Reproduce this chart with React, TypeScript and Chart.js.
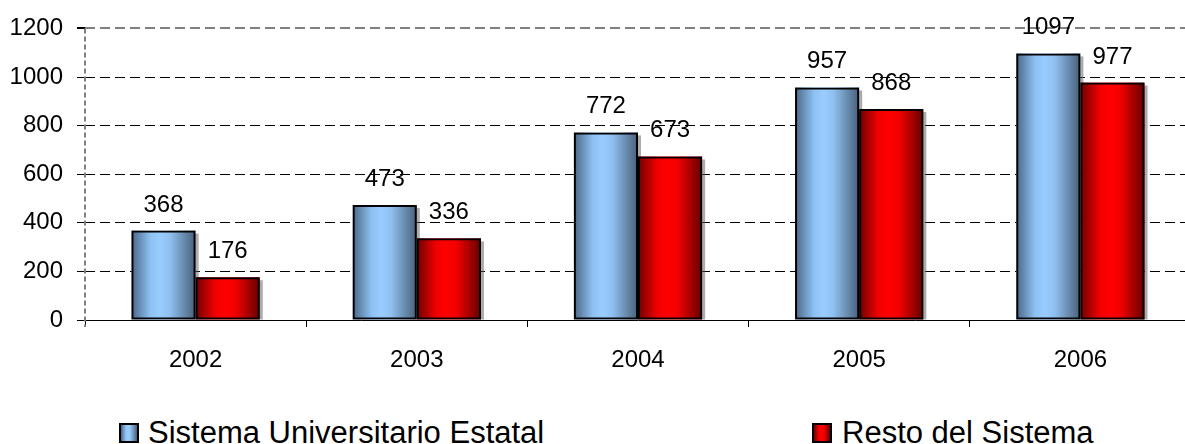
import React, { useEffect, useRef } from "react";
import { Chart, registerables } from "chart.js";

Chart.register(...registerables);

const categories = ["2002", "2003", "2004", "2005", "2006"];
const sistemaUniversitario = [368, 473, 772, 957, 1097];
const restoSistema = [176, 336, 673, 868, 977];
const seriesNames = ["Sistema Universitario Estatal", "Resto del Sistema"];
const yTicks = [0, 200, 400, 600, 800, 1000, 1200];

const FONT = '"Liberation Sans", Arial, sans-serif';

const gradStops = [
  [
    [0, "#4a6686"],
    [0.3, "#8fc2f4"],
    [0.45, "#99ccff"],
    [0.6, "#8fc0f0"],
    [1, "#485f78"],
  ],
  [
    [0, "#6e0000"],
    [0.3, "#f00000"],
    [0.45, "#ff0000"],
    [0.62, "#f20000"],
    [1, "#640000"],
  ],
];

const barPaint = {
  id: "barPaint",
  beforeDatasetsDraw(chart: any) {
    const ctx = chart.ctx;
    ctx.save();
    chart.data.datasets.forEach((_: any, di: number) => {
      const meta = chart.getDatasetMeta(di);
      meta.data.forEach((el: any) => {
        const { x, y, base, width } = el.getProps(["x", "y", "base", "width"], true);
        ctx.fillStyle = "rgba(90,90,90,0.5)";
        ctx.fillRect(x - width / 2 + 3, y + 3, width, base - y - 3);
      });
    });
    chart.data.datasets.forEach((_: any, di: number) => {
      const meta = chart.getDatasetMeta(di);
      meta.data.forEach((el: any) => {
        const { x, y, base, width } = el.getProps(["x", "y", "base", "width"], true);
        const left = x - width / 2;
        const g = ctx.createLinearGradient(left, 0, left + width, 0);
        gradStops[di].forEach(([p, c]: any) => g.addColorStop(p, c));
        ctx.fillStyle = g;
        ctx.fillRect(left, y, width, base - y);
      });
    });
    ctx.restore();
  },
  afterDatasetsDraw(chart: any) {
    const ctx = chart.ctx;
    ctx.save();
    ctx.font = `24px ${FONT}`;
    ctx.fillStyle = "#000";
    ctx.textAlign = "center";
    ctx.textBaseline = "alphabetic";
    chart.data.datasets.forEach((ds: any, di: number) => {
      const meta = chart.getDatasetMeta(di);
      meta.data.forEach((el: any, i: number) => {
        const { x, y } = el.getProps(["x", "y"], true);
        ctx.fillText(String(ds.data[i]), x, y - 19);
      });
    });
    ctx.restore();
  },
  afterDraw(chart: any) {
    const { ctx, chartArea } = chart;
    ctx.save();
    ctx.strokeStyle = "#808080";
    ctx.lineWidth = 2;
    ctx.setLineDash([5, 3]);
    ctx.beginPath();
    ctx.moveTo(chartArea.left, chartArea.top);
    ctx.lineTo(chartArea.left, chartArea.bottom + 7);
    ctx.stroke();
    ctx.restore();
  },
};

export default function App() {
  const ref = useRef<HTMLCanvasElement | null>(null);

  useEffect(() => {
    if (!ref.current) return;
    const chart = new Chart(ref.current, {
      type: "bar",
      data: {
        labels: categories,
        datasets: [
          {
            label: seriesNames[0],
            data: sistemaUniversitario,
            backgroundColor: "rgba(0,0,0,0)",
            borderColor: "#000",
            borderWidth: 2,
            borderSkipped: false,
            categoryPercentage: 0.58,
            barPercentage: 1,
          },
          {
            label: seriesNames[1],
            data: restoSistema,
            backgroundColor: "rgba(0,0,0,0)",
            borderColor: "#000",
            borderWidth: 2,
            borderSkipped: false,
            categoryPercentage: 0.58,
            barPercentage: 1,
          },
        ],
      },
      options: {
        responsive: false,
        animation: false,
        layout: { padding: { top: 27, right: 3, left: 0, bottom: 0 } },
        plugins: {
          legend: { display: false },
          tooltip: { enabled: false },
        },
        scales: {
          x: {
            grid: {
              display: true,
              drawOnChartArea: false,
              drawTicks: true,
              tickLength: 7,
              color: "#000",
              offset: true,
            },
            border: { display: true, color: "#000", width: 1 },
            ticks: {
              color: "#000",
              padding: 19,
              font: { family: FONT, size: 24 },
            },
            afterFit: (s: any) => {
              s.height = 60;
            },
          },
          y: {
            min: 0,
            max: 1200,
            afterBuildTicks: (s: any) => {
              s.ticks = yTicks.map((v) => ({ value: v }));
            },
            grid: {
              color: (c: any) =>
                c.tick && c.tick.value === 1200
                  ? "#808080"
                  : c.tick && c.tick.value === 0
                  ? "rgba(0,0,0,0)"
                  : "#000",
              lineWidth: (c: any) => (c.tick && c.tick.value === 1200 ? 2 : 1),
              tickColor: "#000",
              tickLength: 8,
              drawTicks: true,
            },
            border: { display: false, dash: [10, 5] },
            ticks: {
              color: "#000",
              padding: 14,
              font: { family: FONT, size: 24 },
              callback: (v: any) => String(v),
            },
            afterFit: (s: any) => {
              s.width = 85;
            },
          },
        },
      },
      plugins: [barPaint],
    });
    return () => chart.destroy();
  }, []);

  const legendBox = (i: number, left: number) => {
    const stops = gradStops[i].map(([p, c]: any) => `${c} ${p * 100}%`).join(", ");
    return (
      <div
        style={{
          position: "absolute",
          left,
          top: 423,
          width: 20,
          height: 20,
          boxSizing: "border-box",
          border: "2px solid #000",
          background: `linear-gradient(to right, ${stops})`,
        }}
      />
    );
  };

  const legendText = (i: number, left: number) => (
    <div
      style={{
        position: "absolute",
        left,
        top: 417,
        fontFamily: FONT,
        fontSize: 31,
        lineHeight: "31px",
        color: "#000",
        whiteSpace: "nowrap",
      }}
    >
      {seriesNames[i]}
    </div>
  );

  return (
    <div
      style={{
        position: "absolute",
        left: 0,
        top: 0,
        width: 1185,
        height: 444,
        overflow: "hidden",
        background: "#fff",
      }}
    >
      <canvas ref={ref} width={1194} height={380} style={{ display: "block" }} />
      {legendBox(0, 119)}
      {legendText(0, 148)}
      {legendBox(1, 812)}
      {legendText(1, 842)}
    </div>
  );
}
